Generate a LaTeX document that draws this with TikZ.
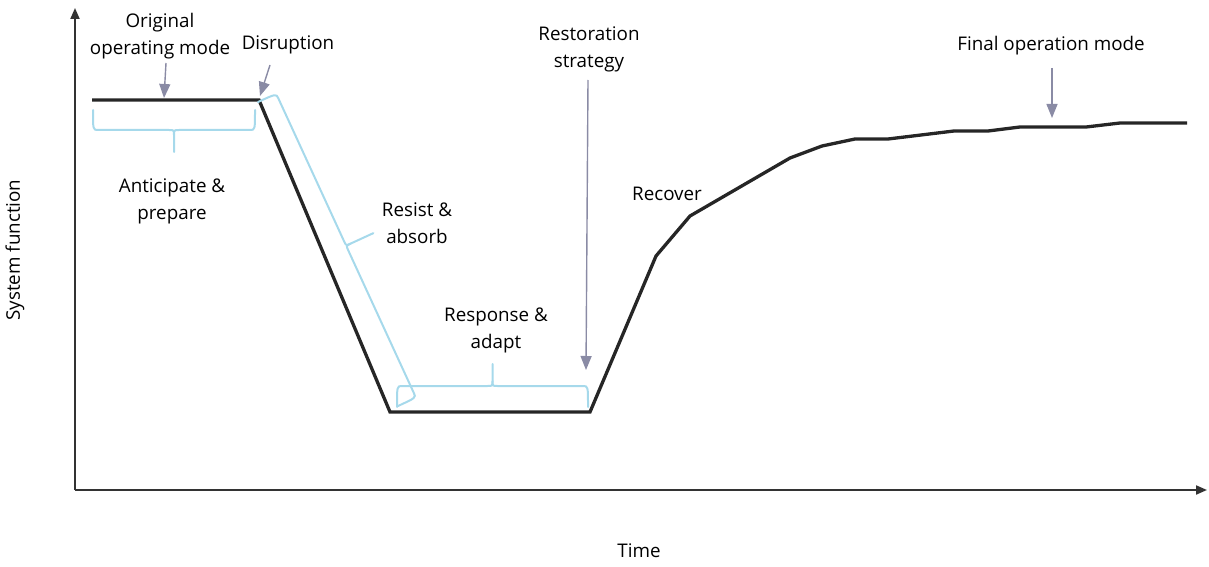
\documentclass[tikz,border=0pt]{standalone}
\usepackage{fontspec}
\setmainfont{Open Sans}
\usetikzlibrary{arrows.meta}
\definecolor{curvecol}{HTML}{262626}
\definecolor{axiscol}{HTML}{333333}
\definecolor{arrcol}{HTML}{8A8BA5}
\definecolor{bracecol}{HTML}{A6D9EB}
\tikzset{
  lbl/.style={font=\fontsize{18.8}{27}\selectfont, align=center, text=black, inner sep=0pt},
  curvepath/.style={draw=curvecol, line width=3.3pt, line join=miter},
  axispath/.style={draw=axiscol, line width=2pt, -{Triangle[width=9pt,length=11pt]}},
  pointer/.style={draw=arrcol, line width=1.4pt, -{Triangle[width=11pt,length=14pt]}},
  bracepath/.style={draw=bracecol, line width=2pt, line cap=round, line join=round},
  pics/obrace/.style n args={3}{code={
    \pgfmathsetmacro\obHalf{#1/2}
    \draw[bracepath] (0,0) .. controls (0,#2) .. (5,#2) -- (\obHalf-5,#2)
        .. controls (\obHalf,#2) .. (\obHalf,#2+5) -- (\obHalf,#3);
    \draw[bracepath] (#1,0) .. controls (#1,#2) .. (#1-5,#2) -- (\obHalf+5,#2)
        .. controls (\obHalf,#2) .. (\obHalf,#2+5);
  }}
}
\begin{document}
\begin{tikzpicture}[x=1pt,y=1pt]
\useasboundingbox (0,0) rectangle (1209,566);
% axes
\coordinate (O) at (75,76);
\coordinate (ytop) at (75,558);
\coordinate (xend) at (1207,76);
\draw[axispath] (O) -- (ytop);
\draw[axispath] (O) -- (xend);
% curve points
\coordinate (p1) at (92,466);
\coordinate (p2) at (259,466);
\coordinate (p3) at (390,154);
\coordinate (p4) at (590,154);
\draw[curvepath] (p1) -- (p2) -- (p3) -- (p4) -- (656,310) -- (690,350) -- (790,408) -- (822,420)
  -- (855,427) -- (888,427) -- (954,435) -- (988,435) -- (1020,439) -- (1086,439) -- (1120,443) -- (1187,443);
% braces
\pic[rotate=180] at (255,456) {obrace={162}{20}{42}};
\pic[rotate=-65.3] at (258,464) {obrace={334.7}{20}{50}};
\pic at (397,159) {obrace={191}{21}{43}};
% labels
\node[lbl] (orig) at (160,529.5) {Original\\operating mode};
\node[lbl] (disr) at (288,521) {Disruption};
\node[lbl] (antic) at (172,364.5) {Anticipate \&\\prepare};
\node[lbl] (resist) at (417,342.5) {Resist \&\\absorb};
\node[lbl] (resp) at (496,235.5) {Response \&\\adapt};
\node[lbl] (recov) at (667,372) {Recover};
\node[lbl] (restor) at (589,516.5) {Restoration\\strategy};
\node[lbl] (final) at (1051,520) {Final operation mode};
\node[lbl, rotate=90] (ylab) at (15,316) {System function};
\node[lbl] (xlab) at (639,15) {Time};
% pointers
\coordinate (a1s) at (166,503); \coordinate (a1e) at (164,468);
\coordinate (a2s) at (270,501); \coordinate (a2e) at (260,470);
\coordinate (a3s) at (588,486); \coordinate (a3e) at (586,196);
\coordinate (a4s) at (1052,498); \coordinate (a4e) at (1052,448);
\draw[pointer] (a1s) -- (a1e);
\draw[pointer] (a2s) -- (a2e);
\draw[pointer] (a3s) -- (a3e);
\draw[pointer] (a4s) -- (a4e);
\end{tikzpicture}
\end{document}
